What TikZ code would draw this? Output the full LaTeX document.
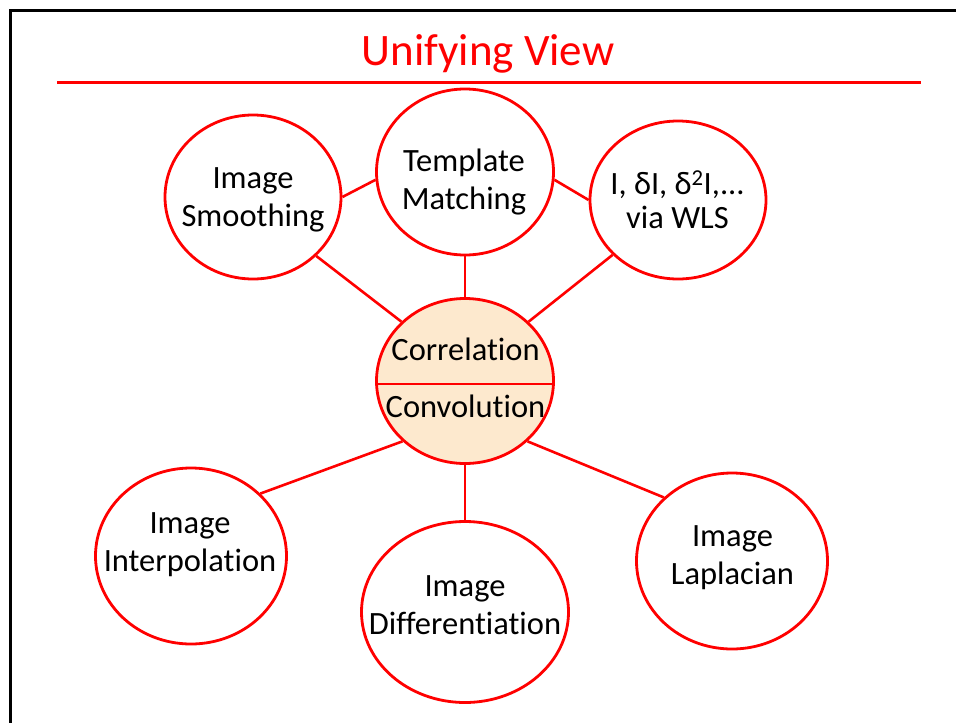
\documentclass[tikz,border=0pt]{standalone}
\usepackage{fontspec}
\setmainfont{Carlito}[Ligatures=NoCommon,Contextuals=NoAlternate]
\usetikzlibrary{shapes.geometric}
\definecolor{pptred}{RGB}{255,0,0}
\definecolor{peach}{RGB}{253,233,206}
\begin{document}
\begin{tikzpicture}[x=1pt,y=-1pt,
  bubble/.style={ellipse,draw=pptred,line width=2.8pt,inner sep=0pt,fill=white},
  link/.style={draw=pptred,line width=2.6pt},
  lbl/.style={align=center,inner sep=0pt,font=\fontsize{32.5}{38}\selectfont},
  lbl1/.style={inner sep=0pt,anchor=base,font=\fontsize{32.5}{38}\selectfont}]
\useasboundingbox (0,0) rectangle (956,723);
% slide frame
\draw[line width=3pt,black] (10.5,723) -- (10.5,10.5) -- (956,10.5);
% title
\node[anchor=base,inner sep=0pt,text=pptred,font=\fontsize{45}{54}\selectfont] (title) at (488,65) {Unifying View};
\draw[pptred,line width=3pt] (57,82.5) -- (921,82.5);
% bubbles
\node[bubble,minimum width=176pt,minimum height=164pt] (sm) at (253,197) {};
\node[bubble,minimum width=177pt,minimum height=166pt] (tm) at (465,172) {};
\node[bubble,minimum width=176pt,minimum height=158pt] (wls) at (678,200) {};
\node[bubble,minimum width=177pt,minimum height=165pt,fill=peach] (cc) at (465,381) {};
\node[bubble,minimum width=191pt,minimum height=176pt] (ip) at (191,556) {};
\node[bubble,minimum width=207pt,minimum height=181pt] (df) at (465,612) {};
\node[bubble,minimum width=191pt,minimum height=176pt] (lp) at (732,561) {};
% divider
\draw[link] ([yshift=-3pt]cc.west) -- ([yshift=-3pt]cc.east);
% connectors
\draw[link] (sm.east) -- (tm.185);
\draw[link] (tm.355) -- (wls.west);
\draw[link] (tm.south) -- (cc.north);
\draw[link] (sm.-43) -- (cc.137);
\draw[link] (wls.220) -- (cc.43);
\draw[link] (cc.224) -- (ip.42);
\draw[link] (cc.south) -- (df.north);
\draw[link] (cc.-44) -- (lp.137);
% texts
\node[lbl] (smt) at (253,199.5) {Image\\Smoothing};
\node[lbl] (tmt) at (464,182.5) {Template\\Matching};
\node[lbl,font=\fontsize{32.5}{34}\selectfont] (wlst) at (677.5,199.5) {I, δI, δ\textsuperscript{2}I,...\\via WLS};
\node[lbl1] (cct1) at (465.5,360) {Correlation};
\node[lbl1] (cct2) at (465.5,417) {Convolution};
\node[lbl] (ipt) at (190,544.5) {Image\\Interpolation};
\node[lbl] (dft) at (465,605) {Image\\Differentiation};
\node[lbl] (lpt) at (732.5,557.5) {Image\\Laplacian};
\end{tikzpicture}
\end{document}
